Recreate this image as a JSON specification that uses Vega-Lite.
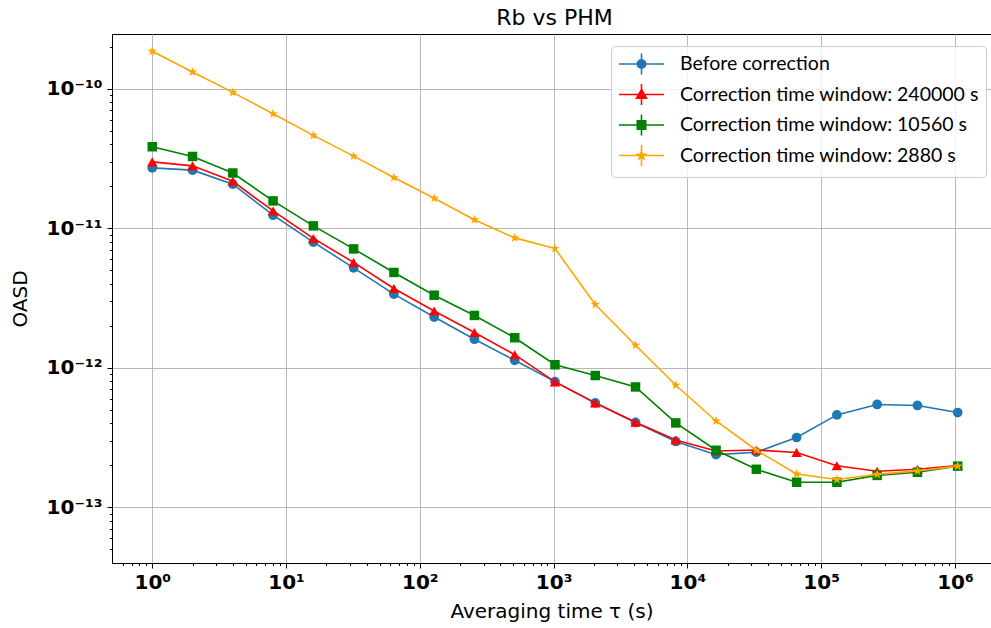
{
  "$schema": "https://vega.github.io/schema/vega-lite/v6.json",
  "autosize": "none",
  "padding": {"left": 112, "top": 34, "right": 0, "bottom": 65},
  "width": 879,
  "height": 529,
  "background": "white",
  "title": {"text": "Rb vs PHM", "font": "DejaVu Sans", "fontSize": 22, "fontWeight": "normal", "color": "#000000", "offset": 4, "dx": 3},
  "config": {
    "view": {"stroke": "#000000", "strokeWidth": 1},
    "axis": {
      "domainColor": "#000000", "domainWidth": 1, "tickColor": "#000000",
      "gridColor": "#b0b0b0", "gridWidth": 0.9,
      "labelFont": "DejaVu Sans", "labelFontWeight": "bold", "labelFontSize": 20, "labelColor": "#000000",
      "titleFont": "DejaVu Sans", "titleFontWeight": "normal", "titleFontSize": 20, "titleColor": "#000000",
      "labelOverlap": false, "labelFlush": false, "labelBound": false
    }
  },
  "data": {"values": [
    {"tau": 1, "series": "Before correction", "oasd": 2.71e-11},
    {"tau": 2, "series": "Before correction", "oasd": 2.61e-11},
    {"tau": 4, "series": "Before correction", "oasd": 2.07e-11},
    {"tau": 8, "series": "Before correction", "oasd": 1.24e-11},
    {"tau": 16, "series": "Before correction", "oasd": 7.95e-12},
    {"tau": 32, "series": "Before correction", "oasd": 5.20e-12},
    {"tau": 64, "series": "Before correction", "oasd": 3.37e-12},
    {"tau": 128, "series": "Before correction", "oasd": 2.31e-12},
    {"tau": 256, "series": "Before correction", "oasd": 1.60e-12},
    {"tau": 512, "series": "Before correction", "oasd": 1.13e-12},
    {"tau": 1024, "series": "Before correction", "oasd": 7.95e-13},
    {"tau": 2048, "series": "Before correction", "oasd": 5.60e-13},
    {"tau": 4096, "series": "Before correction", "oasd": 4.05e-13},
    {"tau": 8192, "series": "Before correction", "oasd": 2.96e-13},
    {"tau": 16384, "series": "Before correction", "oasd": 2.38e-13},
    {"tau": 32768, "series": "Before correction", "oasd": 2.48e-13},
    {"tau": 65536, "series": "Before correction", "oasd": 3.16e-13},
    {"tau": 131072, "series": "Before correction", "oasd": 4.59e-13},
    {"tau": 262144, "series": "Before correction", "oasd": 5.45e-13},
    {"tau": 524288, "series": "Before correction", "oasd": 5.36e-13},
    {"tau": 1048576, "series": "Before correction", "oasd": 4.77e-13},
    {"tau": 1, "series": "Correction time window: 240000 s", "oasd": 2.99e-11},
    {"tau": 2, "series": "Correction time window: 240000 s", "oasd": 2.80e-11},
    {"tau": 4, "series": "Correction time window: 240000 s", "oasd": 2.17e-11},
    {"tau": 8, "series": "Correction time window: 240000 s", "oasd": 1.33e-11},
    {"tau": 16, "series": "Correction time window: 240000 s", "oasd": 8.45e-12},
    {"tau": 32, "series": "Correction time window: 240000 s", "oasd": 5.69e-12},
    {"tau": 64, "series": "Correction time window: 240000 s", "oasd": 3.70e-12},
    {"tau": 128, "series": "Correction time window: 240000 s", "oasd": 2.55e-12},
    {"tau": 256, "series": "Correction time window: 240000 s", "oasd": 1.79e-12},
    {"tau": 512, "series": "Correction time window: 240000 s", "oasd": 1.24e-12},
    {"tau": 1024, "series": "Correction time window: 240000 s", "oasd": 7.91e-13},
    {"tau": 2048, "series": "Correction time window: 240000 s", "oasd": 5.59e-13},
    {"tau": 4096, "series": "Correction time window: 240000 s", "oasd": 4.06e-13},
    {"tau": 8192, "series": "Correction time window: 240000 s", "oasd": 3.03e-13},
    {"tau": 16384, "series": "Correction time window: 240000 s", "oasd": 2.53e-13},
    {"tau": 32768, "series": "Correction time window: 240000 s", "oasd": 2.57e-13},
    {"tau": 65536, "series": "Correction time window: 240000 s", "oasd": 2.47e-13},
    {"tau": 131072, "series": "Correction time window: 240000 s", "oasd": 1.98e-13},
    {"tau": 262144, "series": "Correction time window: 240000 s", "oasd": 1.81e-13},
    {"tau": 524288, "series": "Correction time window: 240000 s", "oasd": 1.87e-13},
    {"tau": 1048576, "series": "Correction time window: 240000 s", "oasd": 1.99e-13},
    {"tau": 1, "series": "Correction time window: 10560 s", "oasd": 3.84e-11},
    {"tau": 2, "series": "Correction time window: 10560 s", "oasd": 3.27e-11},
    {"tau": 4, "series": "Correction time window: 10560 s", "oasd": 2.49e-11},
    {"tau": 8, "series": "Correction time window: 10560 s", "oasd": 1.57e-11},
    {"tau": 16, "series": "Correction time window: 10560 s", "oasd": 1.04e-11},
    {"tau": 32, "series": "Correction time window: 10560 s", "oasd": 7.11e-12},
    {"tau": 64, "series": "Correction time window: 10560 s", "oasd": 4.82e-12},
    {"tau": 128, "series": "Correction time window: 10560 s", "oasd": 3.31e-12},
    {"tau": 256, "series": "Correction time window: 10560 s", "oasd": 2.37e-12},
    {"tau": 512, "series": "Correction time window: 10560 s", "oasd": 1.64e-12},
    {"tau": 1024, "series": "Correction time window: 10560 s", "oasd": 1.05e-12},
    {"tau": 2048, "series": "Correction time window: 10560 s", "oasd": 8.79e-13},
    {"tau": 4096, "series": "Correction time window: 10560 s", "oasd": 7.28e-13},
    {"tau": 8192, "series": "Correction time window: 10560 s", "oasd": 4.02e-13},
    {"tau": 16384, "series": "Correction time window: 10560 s", "oasd": 2.56e-13},
    {"tau": 32768, "series": "Correction time window: 10560 s", "oasd": 1.87e-13},
    {"tau": 65536, "series": "Correction time window: 10560 s", "oasd": 1.51e-13},
    {"tau": 131072, "series": "Correction time window: 10560 s", "oasd": 1.51e-13},
    {"tau": 262144, "series": "Correction time window: 10560 s", "oasd": 1.69e-13},
    {"tau": 524288, "series": "Correction time window: 10560 s", "oasd": 1.78e-13},
    {"tau": 1048576, "series": "Correction time window: 10560 s", "oasd": 1.97e-13},
    {"tau": 1, "series": "Correction time window: 2880 s", "oasd": 1.86e-10},
    {"tau": 2, "series": "Correction time window: 2880 s", "oasd": 1.32e-10},
    {"tau": 4, "series": "Correction time window: 2880 s", "oasd": 9.42e-11},
    {"tau": 8, "series": "Correction time window: 2880 s", "oasd": 6.62e-11},
    {"tau": 16, "series": "Correction time window: 2880 s", "oasd": 4.63e-11},
    {"tau": 32, "series": "Correction time window: 2880 s", "oasd": 3.29e-11},
    {"tau": 64, "series": "Correction time window: 2880 s", "oasd": 2.31e-11},
    {"tau": 128, "series": "Correction time window: 2880 s", "oasd": 1.64e-11},
    {"tau": 256, "series": "Correction time window: 2880 s", "oasd": 1.15e-11},
    {"tau": 512, "series": "Correction time window: 2880 s", "oasd": 8.53e-12},
    {"tau": 1024, "series": "Correction time window: 2880 s", "oasd": 7.16e-12},
    {"tau": 2048, "series": "Correction time window: 2880 s", "oasd": 2.84e-12},
    {"tau": 4096, "series": "Correction time window: 2880 s", "oasd": 1.45e-12},
    {"tau": 8192, "series": "Correction time window: 2880 s", "oasd": 7.49e-13},
    {"tau": 16384, "series": "Correction time window: 2880 s", "oasd": 4.15e-13},
    {"tau": 32768, "series": "Correction time window: 2880 s", "oasd": 2.56e-13},
    {"tau": 65536, "series": "Correction time window: 2880 s", "oasd": 1.73e-13},
    {"tau": 131072, "series": "Correction time window: 2880 s", "oasd": 1.58e-13},
    {"tau": 262144, "series": "Correction time window: 2880 s", "oasd": 1.72e-13},
    {"tau": 524288, "series": "Correction time window: 2880 s", "oasd": 1.82e-13},
    {"tau": 1048576, "series": "Correction time window: 2880 s", "oasd": 1.97e-13}
  ]},
  "encoding": {
    "x": {
      "field": "tau", "type": "quantitative",
      "scale": {"type": "log", "domain": [0.5, 1.86e6], "nice": false, "zero": false},
      "axis": {
        "title": "Averaging time τ (s)", "titlePadding": 9,
        "values": [0.6,0.7,0.8,0.9,1,2,3,4,5,6,7,8,9,10,20,30,40,50,60,70,80,90,100,200,300,400,500,600,700,800,900,1000,2000,3000,4000,5000,6000,7000,8000,9000,10000,20000,30000,40000,50000,60000,70000,80000,90000,100000,200000,300000,400000,500000,600000,700000,800000,900000,1000000],
        "labelExpr": "abs(log(datum.value)/LN10 - round(log(datum.value)/LN10)) > 0.001 ? '' : '10' + ['⁰','¹','²','³','⁴','⁵','⁶'][round(log(datum.value)/LN10)]",
        "labelPadding": 4,
        "tickSize": {"condition": {"test": "abs(log(datum.value)/LN10 - round(log(datum.value)/LN10)) < 0.001", "value": 5}, "value": 2.5},
        "gridOpacity": {"condition": {"test": "abs(log(datum.value)/LN10 - round(log(datum.value)/LN10)) < 0.001", "value": 1}, "value": 0}
      }
    },
    "y": {
      "field": "oasd", "type": "quantitative",
      "scale": {"type": "log", "domain": [3.98e-14, 2.47e-10], "nice": false, "zero": false},
      "axis": {
        "title": "OASD", "titlePadding": 16,
        "values": [5e-14,6e-14,7e-14,8e-14,9e-14,1e-13,2e-13,3e-13,4e-13,5e-13,6e-13,7e-13,8e-13,9e-13,1e-12,2e-12,3e-12,4e-12,5e-12,6e-12,7e-12,8e-12,9e-12,1e-11,2e-11,3e-11,4e-11,5e-11,6e-11,7e-11,8e-11,9e-11,1e-10,2e-10],
        "labelExpr": "abs(log(datum.value)/LN10 - round(log(datum.value)/LN10)) > 0.001 ? '' : '10⁻¹' + ['⁰','¹','²','³'][-round(log(datum.value)/LN10) - 10]",
        "labelPadding": 5,
        "tickSize": {"condition": {"test": "abs(log(datum.value)/LN10 - round(log(datum.value)/LN10)) < 0.001", "value": 5}, "value": 2.5},
        "gridOpacity": {"condition": {"test": "abs(log(datum.value)/LN10 - round(log(datum.value)/LN10)) < 0.001", "value": 1}, "value": 0}
      }
    },
    "color": {
      "field": "series", "type": "nominal",
      "scale": {
        "domain": ["Before correction", "Correction time window: 240000 s", "Correction time window: 10560 s", "Correction time window: 2880 s"],
        "range": ["#1f77b4", "#ff0000", "#008000", "#ffa500"]
      },
      "legend": {
        "title": null, "orient": "none", "legendX": 499, "legendY": 12,
        "symbolSize": 400, "labelFont": "Lato", "labelFontSize": 19.5, "labelColor": "#000000", "labelOffset": 40, "labelLimit": 0,
        "padding": 7, "rowPadding": 2.5,
        "strokeColor": "#cccccc", "fillColor": "rgba(255,255,255,0.8)", "cornerRadius": 4,
        "encode": {"symbols": {"update": {
          "shape": {"signal": "datum.value === 'Before correction' ? 'M-1,0L3.5,0M1.25,-1.05L1.25,1.05M0.83,0A0.42,0.42 0 1,0 1.67,0A0.42,0.42 0 1,0 0.83,0Z' : datum.value === 'Correction time window: 240000 s' ? 'M-1,0L3.5,0M1.25,-1.05L1.25,1.05M1.25,-0.5L1.75,0.38L0.75,0.38Z' : datum.value === 'Correction time window: 10560 s' ? 'M-1,0L3.5,0M1.25,-1.05L1.25,1.05M0.83,-0.42L1.67,-0.42L1.67,0.42L0.83,0.42Z' : 'M-1,0L3.5,0M1.25,-1.05L1.25,1.05M1.25,-0.4L1.344,-0.13L1.63,-0.124L1.402,0.05L1.485,0.324L1.25,0.16L1.015,0.324L1.098,0.05L0.87,-0.124L1.156,-0.13Z'"},
          "fill": {"signal": "datum.value === 'Before correction' ? '#1f77b4' : datum.value === 'Correction time window: 240000 s' ? '#ff0000' : datum.value === 'Correction time window: 10560 s' ? '#008000' : '#ffa500'"},
          "stroke": {"signal": "datum.value === 'Before correction' ? '#1f77b4' : datum.value === 'Correction time window: 240000 s' ? '#ff0000' : datum.value === 'Correction time window: 10560 s' ? '#008000' : '#ffa500'"},
          "strokeWidth": {"value": 1.6},
          "opacity": {"value": 1},
          "fillOpacity": {"value": 1},
          "strokeOpacity": {"value": 1}
        }}}
      }
    }
  },
  "layer": [
    {"transform": [{"filter": "datum.series === 'Before correction'"}], "mark": {"type": "line", "strokeWidth": 1.6}},
    {"transform": [{"filter": "datum.series === 'Before correction'"}], "mark": {"type": "point", "filled": true, "opacity": 1, "shape": "circle", "size": 95}},
    {"transform": [{"filter": "datum.series === 'Correction time window: 240000 s'"}], "mark": {"type": "line", "strokeWidth": 1.6}},
    {"transform": [{"filter": "datum.series === 'Correction time window: 240000 s'"}], "mark": {"type": "point", "filled": true, "opacity": 1, "shape": "triangle-up", "size": 110}},
    {"transform": [{"filter": "datum.series === 'Correction time window: 10560 s'"}], "mark": {"type": "line", "strokeWidth": 1.6}},
    {"transform": [{"filter": "datum.series === 'Correction time window: 10560 s'"}], "mark": {"type": "point", "filled": true, "opacity": 1, "shape": "square", "size": 90}},
    {"transform": [{"filter": "datum.series === 'Correction time window: 2880 s'"}], "mark": {"type": "line", "strokeWidth": 1.6}},
    {"transform": [{"filter": "datum.series === 'Correction time window: 2880 s'"}], "mark": {"type": "point", "filled": true, "opacity": 1, "shape": "M0,-1L0.235,-0.324L0.951,-0.309L0.38,0.124L0.588,0.809L0,0.4L-0.588,0.809L-0.38,0.124L-0.951,-0.309L-0.235,-0.324Z", "size": 100}}
  ]
}
